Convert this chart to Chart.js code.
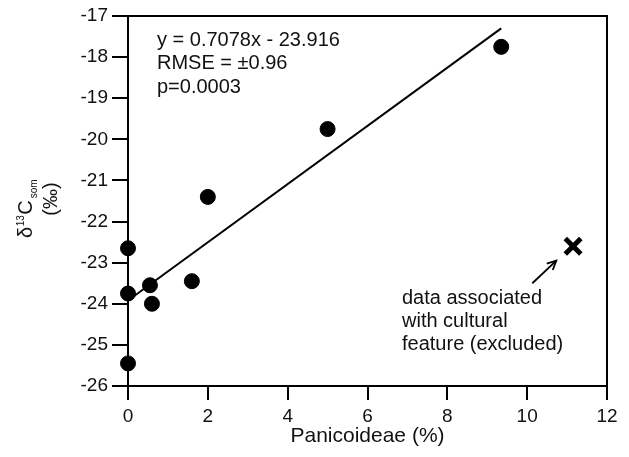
<!DOCTYPE html>
<html>
<head>
<meta charset="utf-8">
<script src="https://cdn.jsdelivr.net/npm/chart.js@4/dist/chart.umd.min.js"></script>
<style>
  html, body { margin: 0; padding: 0; background: #fff; }
  #wrap { width: 629px; height: 457px; }
</style>
</head>
<body>
<div id="wrap"><canvas id="chart"></canvas></div>
<script>
// values
const panicoideae = [0, 0, 0, 0.55, 0.6, 1.6, 2.0, 5.0, 9.35];
const d13Csom = [-22.65, -23.75, -25.45, -23.55, -24.0, -23.45, -21.4, -19.75, -17.75];
const fitX = [0, 9.35];
const fitY = [-23.92, -17.3];
const excludedX = [11.15];
const excludedY = [-22.6];
const arrowX = [10.13, 10.73];
const arrowY = [-23.5, -22.95];
const statsLines = ["y = 0.7078x - 23.916", "RMSE = \u00b10.96", "p=0.0003"];
const noteLines = ["data associated", "with cultural", "feature (excluded)"];

const FONT = "'Liberation Sans', Arial, sans-serif";

const points = panicoideae.map((x, i) => ({ x, y: d13Csom[i] }));
const fitLine = fitX.map((x, i) => ({ x, y: fitY[i] }));
const excluded = excludedX.map((x, i) => ({ x, y: excludedY[i] }));

const extras = {
  id: "extras",
  afterDraw(chart) {
    const ctx = chart.ctx;
    const a = chart.chartArea;
    const xs = chart.scales.x, ys = chart.scales.y;
    ctx.save();
    // top and right frame
    ctx.strokeStyle = "#000";
    ctx.lineWidth = 2;
    ctx.beginPath();
    ctx.moveTo(a.left, a.top);
    ctx.lineTo(a.right, a.top);
    ctx.lineTo(a.right, a.bottom);
    ctx.stroke();

    // stats text
    ctx.fillStyle = "#111";
    ctx.font = "20px " + FONT;
    ctx.textAlign = "left";
    ctx.textBaseline = "alphabetic";
    statsLines.forEach((t, i) => ctx.fillText(t, a.left + 29, a.top + 30 + i * 23.3));

    // note text
    noteLines.forEach((t, i) => ctx.fillText(t, a.left + 274, a.top + 288 + i * 23));

    // arrow
    const x1 = xs.getPixelForValue(arrowX[0]), y1 = ys.getPixelForValue(arrowY[0]);
    const x2 = xs.getPixelForValue(arrowX[1]), y2 = ys.getPixelForValue(arrowY[1]);
    ctx.lineWidth = 1.8;
    ctx.beginPath();
    ctx.moveTo(x1, y1);
    ctx.lineTo(x2, y2);
    ctx.stroke();
    const ang = Math.atan2(y2 - y1, x2 - x1);
    ctx.beginPath();
    ctx.moveTo(x2 - 10 * Math.cos(ang - 0.45), y2 - 10 * Math.sin(ang - 0.45));
    ctx.lineTo(x2, y2);
    ctx.lineTo(x2 - 10 * Math.cos(ang + 0.45), y2 - 10 * Math.sin(ang + 0.45));
    ctx.stroke();

    // y title
    ctx.translate(32, 238);
    ctx.rotate(-Math.PI / 2);
    ctx.fillStyle = "#111";
    ctx.font = "20px " + FONT;
    ctx.fillText("\u03b4", 0, 0);
    let w = ctx.measureText("\u03b4").width;
    ctx.font = "10px " + FONT;
    ctx.fillText("13", w + 0.5, -8);
    w += ctx.measureText("13").width + 1;
    ctx.font = "20px " + FONT;
    ctx.fillText("C", w, 0);
    w += ctx.measureText("C").width + 2;
    ctx.font = "10px " + FONT;
    ctx.fillText("som", w, 5);
    ctx.font = "20px " + FONT;
    ctx.textAlign = "center";
    ctx.fillText("(\u2030)", 39, 25);
    ctx.restore();
  }
};

const tickFont = { family: FONT, size: 19 };

new Chart(document.getElementById("chart"), {
  type: "scatter",
  data: {
    datasets: [
      {
        data: points,
        backgroundColor: "#000",
        borderColor: "#000",
        pointRadius: 7.5,
        pointHoverRadius: 7.5,
        clip: false
      },
      {
        type: "line",
        data: fitLine,
        borderColor: "#000",
        borderWidth: 2,
        pointRadius: 0,
        fill: false,
        clip: false
      },
      {
        data: excluded,
        pointStyle: "crossRot",
        pointRadius: 11,
        borderWidth: 5,
        borderColor: "#000",
        backgroundColor: "#000",
        clip: false
      }
    ]
  },
  options: {
    responsive: true,
    maintainAspectRatio: false,
    animation: false,
    events: [],
    layout: { padding: { left: 0, top: 16, right: 22, bottom: 0 } },
    plugins: { legend: { display: false }, tooltip: { enabled: false } },
    scales: {
      x: {
        type: "linear",
        min: 0,
        max: 12,
        ticks: { stepSize: 2, color: "#111", font: tickFont, padding: 5, maxRotation: 0 },
        grid: { drawOnChartArea: false, drawTicks: true, tickLength: 14, color: "#000", lineWidth: 2 },
        border: { display: true, color: "#000", width: 2 },
        title: { display: true, text: "Panicoideae (%)", color: "#111", font: { family: FONT, size: 21 }, padding: { top: 0, bottom: 8 } },
        afterFit(scale) { scale.height = 71; }
      },
      y: {
        type: "linear",
        min: -26,
        max: -17,
        ticks: { stepSize: 1, color: "#111", font: tickFont, padding: 4 },
        grid: { drawOnChartArea: false, drawTicks: true, tickLength: 16, color: "#000", lineWidth: 2 },
        border: { display: true, color: "#000", width: 2 },
        afterFit(scale) { scale.width = 128; }
      }
    }
  },
  plugins: [extras]
});
</script>
</body>
</html>
